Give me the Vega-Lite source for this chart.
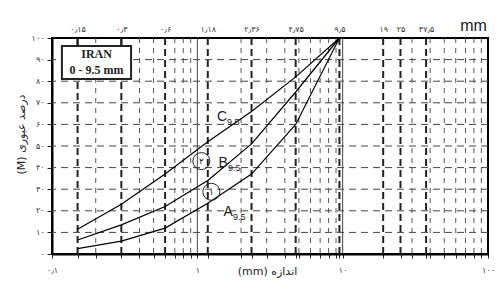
{
  "$schema": "https://vega.github.io/schema/vega-lite/v6.json",
  "width": 436,
  "height": 216,
  "autosize": "none",
  "padding": {"left": 52, "top": 38, "right": 12, "bottom": 46},
  "background": "white",
  "config": {"view": {"stroke": "black", "strokeWidth": 2}, "font": "DejaVu Sans"},
  "resolve": {"axis": {"x": "independent", "y": "independent"}},
  "datasets": {
    "curves": [
      {"curve": "A", "size": 0.15, "pass": 2.5}, {"curve": "A", "size": 0.3, "pass": 6}, {"curve": "A", "size": 0.6, "pass": 12}, {"curve": "A", "size": 1.18, "pass": 23.5}, {"curve": "A", "size": 2.36, "pass": 37}, {"curve": "A", "size": 4.75, "pass": 60}, {"curve": "A", "size": 9.5, "pass": 100},
      {"curve": "B", "size": 0.15, "pass": 6.5}, {"curve": "B", "size": 0.3, "pass": 13.5}, {"curve": "B", "size": 0.6, "pass": 22}, {"curve": "B", "size": 1.18, "pass": 34}, {"curve": "B", "size": 2.36, "pass": 51}, {"curve": "B", "size": 4.75, "pass": 75}, {"curve": "B", "size": 9.5, "pass": 100},
      {"curve": "C", "size": 0.15, "pass": 11.5}, {"curve": "C", "size": 0.3, "pass": 23}, {"curve": "C", "size": 0.6, "pass": 37}, {"curve": "C", "size": 1.18, "pass": 52}, {"curve": "C", "size": 2.36, "pass": 66}, {"curve": "C", "size": 4.75, "pass": 82}, {"curve": "C", "size": 9.5, "pass": 100}
    ],
    "majorX": [{"v": 0.15}, {"v": 0.3}, {"v": 0.6}, {"v": 1.18}, {"v": 2.36}, {"v": 4.75}, {"v": 9.5}, {"v": 19}, {"v": 25}, {"v": 37.5}],
    "minorX": [{"v": 0.2}, {"v": 0.4}, {"v": 0.5}, {"v": 0.7}, {"v": 0.8}, {"v": 0.9}, {"v": 2}, {"v": 3}, {"v": 4}, {"v": 5}, {"v": 6}, {"v": 7}, {"v": 8}, {"v": 9}, {"v": 30}, {"v": 40}, {"v": 50}, {"v": 60}, {"v": 70}, {"v": 80}, {"v": 90}],
    "solidX": [{"v": 1}, {"v": 10}],
    "gridY": [{"v": 10}, {"v": 20}, {"v": 30}, {"v": 40}, {"v": 50}, {"v": 60}, {"v": 70}, {"v": 80}, {"v": 90}],
    "box": [{"x1": 0.117, "x2": 0.35, "y1": 81, "y2": 96.3}],
    "boxStems": [{"v": 0.15}, {"v": 0.3}],
    "boxText": [{"t": "IRAN", "x": 0.2027, "y": 92.4}, {"t": "0 - 9.5 mm", "x": 0.2027, "y": 85}],
    "labels": [
      {"letter": "C", "sub": "9.5", "x": 1.48, "y": 63.6},
      {"letter": "B", "sub": "9.5", "x": 1.504, "y": 42},
      {"letter": "A", "sub": "9.5", "x": 1.628, "y": 19.6}
    ],
    "circles": [{"n": "۲", "x": 1.066, "y": 43}, {"n": "۱", "x": 1.249, "y": 28.8}]
  },
  "layer": [
    {
      "data": {"name": "gridY"},
      "mark": {"type": "rule", "stroke": "#444", "strokeWidth": 1, "strokeDash": [7, 5]},
      "encoding": {
        "y": {"field": "v", "type": "quantitative", "scale": {"domain": [0, 100], "nice": false}, "axis": null}
      }
    },
    {
      "data": {"name": "minorX"},
      "mark": {"type": "rule", "stroke": "#555", "strokeWidth": 1, "strokeDash": [5, 5]},
      "encoding": {
        "x": {"field": "v", "type": "quantitative", "scale": {"type": "log", "domain": [0.1, 100], "nice": false},
          "axis": {
            "orient": "bottom",
            "values": [0.1, 0.15, 0.2, 0.3, 0.4, 0.5, 0.6, 0.7, 0.8, 0.9, 1, 1.18, 2, 2.36, 3, 4, 4.75, 5, 6, 7, 8, 9, 9.5, 10, 19, 25, 30, 37.5, 40, 50, 60, 70, 80, 90, 100],
            "labelExpr": "indexof([0.1,1,10,100], datum.value) >= 0 ? replace(replace(replace(replace(replace(replace(replace(replace(replace(replace(replace(toString(datum.value),regexp('0','g'),'۰'),regexp('1','g'),'۱'),regexp('2','g'),'۲'),regexp('3','g'),'۳'),regexp('4','g'),'۴'),regexp('5','g'),'۵'),regexp('6','g'),'۶'),regexp('7','g'),'۷'),regexp('8','g'),'۸'),regexp('9','g'),'۹'),'.','٫') : ''",
            "labelFlush": false,
            "labelOverlap": false,
            "labelFontSize": 8,
            "labelColor": "#333",
            "labelPadding": 8,
            "tickSize": 4,
            "tickColor": "#222",
            "domainColor": "black",
            "domainWidth": 2,
            "grid": false,
            "title": "(mm) اندازه",
            "titleFontSize": 11,
            "titleFontWeight": "normal",
            "titleColor": "#222",
            "titleX": 215,
            "titleY": 17,
            "titleBaseline": "middle",
            "titleAnchor": null,
            "titleAlign": "center"
          }
        }
      }
    },
    {
      "data": {"name": "majorX"},
      "mark": {"type": "rule", "stroke": "#222", "strokeWidth": 2, "strokeDash": [7, 4]},
      "encoding": {
        "x": {"field": "v", "type": "quantitative", "scale": {"type": "log", "domain": [0.1, 100], "nice": false},
          "axis": {
            "orient": "top",
            "values": [0.15, 0.3, 0.6, 1.18, 2.36, 4.75, 9.5, 19, 25, 37.5],
            "labelExpr": "replace(replace(replace(replace(replace(replace(replace(replace(replace(replace(replace(toString(datum.value),regexp('0','g'),'۰'),regexp('1','g'),'۱'),regexp('2','g'),'۲'),regexp('3','g'),'۳'),regexp('4','g'),'۴'),regexp('5','g'),'۵'),regexp('6','g'),'۶'),regexp('7','g'),'۷'),regexp('8','g'),'۸'),regexp('9','g'),'۹'),'.','٫')",
            "labelFlush": false,
            "labelOverlap": false,
            "labelFontSize": 8,
            "labelColor": "#333",
            "labelPadding": 5,
            "ticks": false,
            "tickSize": 0,
            "domain": false,
            "grid": false,
            "title": "mm",
            "titleFontSize": 16,
            "titleFontWeight": "normal",
            "titleColor": "#222",
            "titleFont": "Liberation Sans",
            "titleAngle": 0,
            "titleX": 421,
            "titleY": -13,
            "titleBaseline": "middle",
            "titleAnchor": null,
            "titleAlign": "center"
          }
        }
      }
    },
    {
      "data": {"name": "solidX"},
      "mark": {"type": "rule", "stroke": "#444", "strokeWidth": 1},
      "encoding": {
        "x": {"field": "v", "type": "quantitative", "scale": {"type": "log", "domain": [0.1, 100], "nice": false}, "axis": null}
      }
    },
    {
      "data": {"name": "curves"},
      "mark": {"type": "line", "stroke": "black", "strokeWidth": 1.2},
      "encoding": {
        "x": {"field": "size", "type": "quantitative", "scale": {"type": "log", "domain": [0.1, 100], "nice": false}, "axis": null},
        "y": {"field": "pass", "type": "quantitative", "scale": {"domain": [0, 100], "nice": false},
          "axis": {
            "orient": "left",
            "values": [0, 10, 20, 30, 40, 50, 60, 70, 80, 90, 100],
            "labelExpr": "replace(replace(replace(replace(replace(replace(replace(replace(replace(replace(toString(datum.value),regexp('0','g'),'۰'),regexp('1','g'),'۱'),regexp('2','g'),'۲'),regexp('3','g'),'۳'),regexp('4','g'),'۴'),regexp('5','g'),'۵'),regexp('6','g'),'۶'),regexp('7','g'),'۷'),regexp('8','g'),'۸'),regexp('9','g'),'۹')",
            "labelFlush": false,
            "labelOverlap": false,
            "labelFontSize": 8,
            "labelColor": "#333",
            "labelPadding": 3,
            "tickSize": 5,
            "tickColor": "#222",
            "domainColor": "black",
            "domainWidth": 2,
            "grid": false,
            "title": "(M) درصد عبوری",
            "titleFontSize": 11,
            "titleFontWeight": "normal",
            "titleColor": "#222",
            "titleX": -31,
            "titleY": 96,
            "titleAnchor": null,
            "titleAlign": "center",
            "titleBaseline": "middle"
          }
        },
        "detail": {"field": "curve"}
      }
    },
    {
      "data": {"name": "boxStems"},
      "mark": {"type": "rule", "stroke": "#222", "strokeWidth": 2},
      "encoding": {
        "x": {"field": "v", "type": "quantitative", "scale": {"type": "log", "domain": [0.1, 100], "nice": false}, "axis": null},
        "y": {"datum": 96.3, "type": "quantitative", "scale": {"domain": [0, 100], "nice": false}, "axis": null},
        "y2": {"datum": 100}
      }
    },
    {
      "data": {"name": "box"},
      "mark": {"type": "rect", "fill": "white", "stroke": "#222", "strokeWidth": 2},
      "encoding": {
        "x": {"field": "x1", "type": "quantitative", "scale": {"type": "log", "domain": [0.1, 100], "nice": false}, "axis": null},
        "x2": {"field": "x2"},
        "y": {"field": "y1", "type": "quantitative", "scale": {"domain": [0, 100], "nice": false}, "axis": null},
        "y2": {"field": "y2"}
      }
    },
    {
      "data": {"name": "boxText"},
      "mark": {"type": "text", "font": "Liberation Serif", "fontWeight": "bold", "fontSize": 12, "color": "#222", "align": "center", "baseline": "middle"},
      "encoding": {
        "x": {"field": "x", "type": "quantitative", "scale": {"type": "log", "domain": [0.1, 100], "nice": false}, "axis": null},
        "y": {"field": "y", "type": "quantitative", "scale": {"domain": [0, 100], "nice": false}, "axis": null},
        "text": {"field": "t"}
      }
    },
    {
      "data": {"name": "labels"},
      "mark": {"type": "text", "font": "Liberation Sans", "fontSize": 14, "color": "#222", "align": "center", "baseline": "middle"},
      "encoding": {
        "x": {"field": "x", "type": "quantitative", "scale": {"type": "log", "domain": [0.1, 100], "nice": false}, "axis": null},
        "y": {"field": "y", "type": "quantitative", "scale": {"domain": [0, 100], "nice": false}, "axis": null},
        "text": {"field": "letter"}
      }
    },
    {
      "data": {"name": "labels"},
      "mark": {"type": "text", "font": "Liberation Sans", "fontSize": 9, "color": "#222", "align": "left", "baseline": "middle", "dx": 5, "dy": 5},
      "encoding": {
        "x": {"field": "x", "type": "quantitative", "scale": {"type": "log", "domain": [0.1, 100], "nice": false}, "axis": null},
        "y": {"field": "y", "type": "quantitative", "scale": {"domain": [0, 100], "nice": false}, "axis": null},
        "text": {"field": "sub"}
      }
    },
    {
      "data": {"name": "circles"},
      "mark": {"type": "point", "shape": "circle", "filled": false, "stroke": "#222", "strokeWidth": 1, "size": 290, "opacity": 1},
      "encoding": {
        "x": {"field": "x", "type": "quantitative", "scale": {"type": "log", "domain": [0.1, 100], "nice": false}, "axis": null},
        "y": {"field": "y", "type": "quantitative", "scale": {"domain": [0, 100], "nice": false}, "axis": null}
      }
    },
    {
      "data": {"name": "circles"},
      "mark": {"type": "text", "fontSize": 9, "color": "#222", "align": "center", "baseline": "middle"},
      "encoding": {
        "x": {"field": "x", "type": "quantitative", "scale": {"type": "log", "domain": [0.1, 100], "nice": false}, "axis": null},
        "y": {"field": "y", "type": "quantitative", "scale": {"domain": [0, 100], "nice": false}, "axis": null},
        "text": {"field": "n"}
      }
    }
  ]
}
